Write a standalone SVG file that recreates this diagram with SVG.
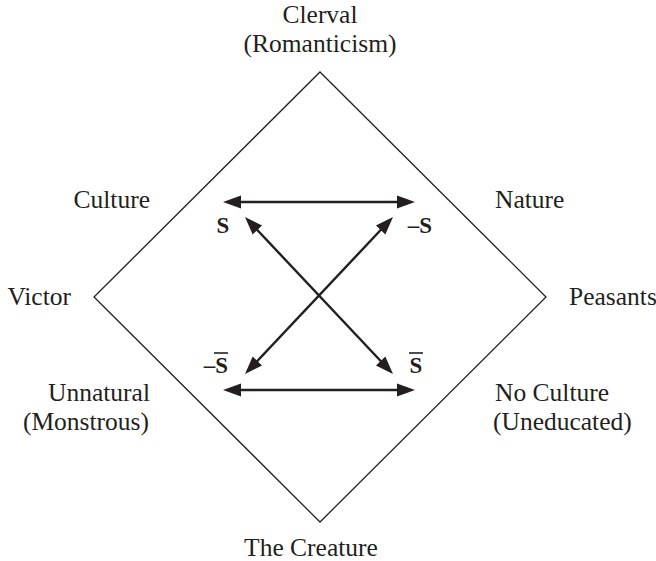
<svg xmlns="http://www.w3.org/2000/svg" width="656" height="561" viewBox="0 0 656 561">
  <style>
    .lbl { font-family: "Liberation Serif", "DejaVu Serif", serif; font-size: 25.5px; fill: #231f20; }
    .sym { font-family: "Liberation Serif", "DejaVu Serif", serif; font-size: 23px; font-weight: bold; fill: #231f20; }
    .frame { fill: none; stroke: #231f20; stroke-width: 1.3; }
    .link { fill: none; stroke: #231f20; stroke-width: 2.4; marker-start: url(#head); marker-end: url(#head); }
    .bar { stroke: #231f20; stroke-width: 1.6; }
  </style>
  <defs>
    <marker id="head" markerUnits="userSpaceOnUse" markerWidth="20" markerHeight="16" viewBox="0 -8 20 16" refX="10" refY="0" orient="auto-start-reverse">
      <path d="M0,-6.5 L18,0 L0,6.5 Z" fill="#231f20"/>
    </marker>
  </defs>

  <rect width="656" height="561" fill="#ffffff"/>

  <!-- semiotic square outline -->
  <g id="square">
    <polygon class="frame" points="320,72 546,297 320,522 94,297"/>
  </g>

  <!-- corner and side labels -->
  <g id="clerval">
    <text class="lbl" x="320" y="23" text-anchor="middle">Clerval</text>
    <text class="lbl" x="320" y="52" text-anchor="middle">(Romanticism)</text>
  </g>
  <g id="victor">
    <text class="lbl" x="71" y="305" text-anchor="end">Victor</text>
  </g>
  <g id="peasants">
    <text class="lbl" x="569" y="305">Peasants</text>
  </g>
  <g id="creature">
    <text class="lbl" x="311" y="556" text-anchor="middle">The Creature</text>
  </g>
  <g id="culture">
    <text class="lbl" x="150" y="208" text-anchor="end">Culture</text>
  </g>
  <g id="nature">
    <text class="lbl" x="495" y="208">Nature</text>
  </g>
  <g id="unnatural">
    <text class="lbl" x="150" y="401" text-anchor="end">Unnatural</text>
    <text class="lbl" x="149" y="430" text-anchor="end">(Monstrous)</text>
  </g>
  <g id="no-culture">
    <text class="lbl" x="495" y="401">No Culture</text>
    <text class="lbl" x="493" y="430">(Uneducated)</text>
  </g>

  <!-- terms -->
  <g id="s">
    <text class="sym" x="223" y="233" text-anchor="middle">S</text>
  </g>
  <g id="not-s">
    <text class="sym" x="432" y="233" text-anchor="end">–S</text>
  </g>
  <g id="not-s-bar">
    <text class="sym" x="228" y="373" text-anchor="end">–S</text>
    <line class="bar" x1="214" y1="353" x2="228" y2="353"/>
  </g>
  <g id="s-bar">
    <text class="sym" x="416" y="373" text-anchor="middle">S</text>
    <line class="bar" x1="409" y1="353" x2="423" y2="353"/>
  </g>

  <!-- relations -->
  <g id="connectors">
    <line class="link" x1="231" y1="202" x2="407" y2="202"/>
    <line class="link" x1="231" y1="390" x2="407" y2="390"/>
    <line class="link" x1="250.5" y1="222.8" x2="387.5" y2="368.2"/>
    <line class="link" x1="387.5" y1="222.8" x2="250.5" y2="368.2"/>
  </g>
</svg>
